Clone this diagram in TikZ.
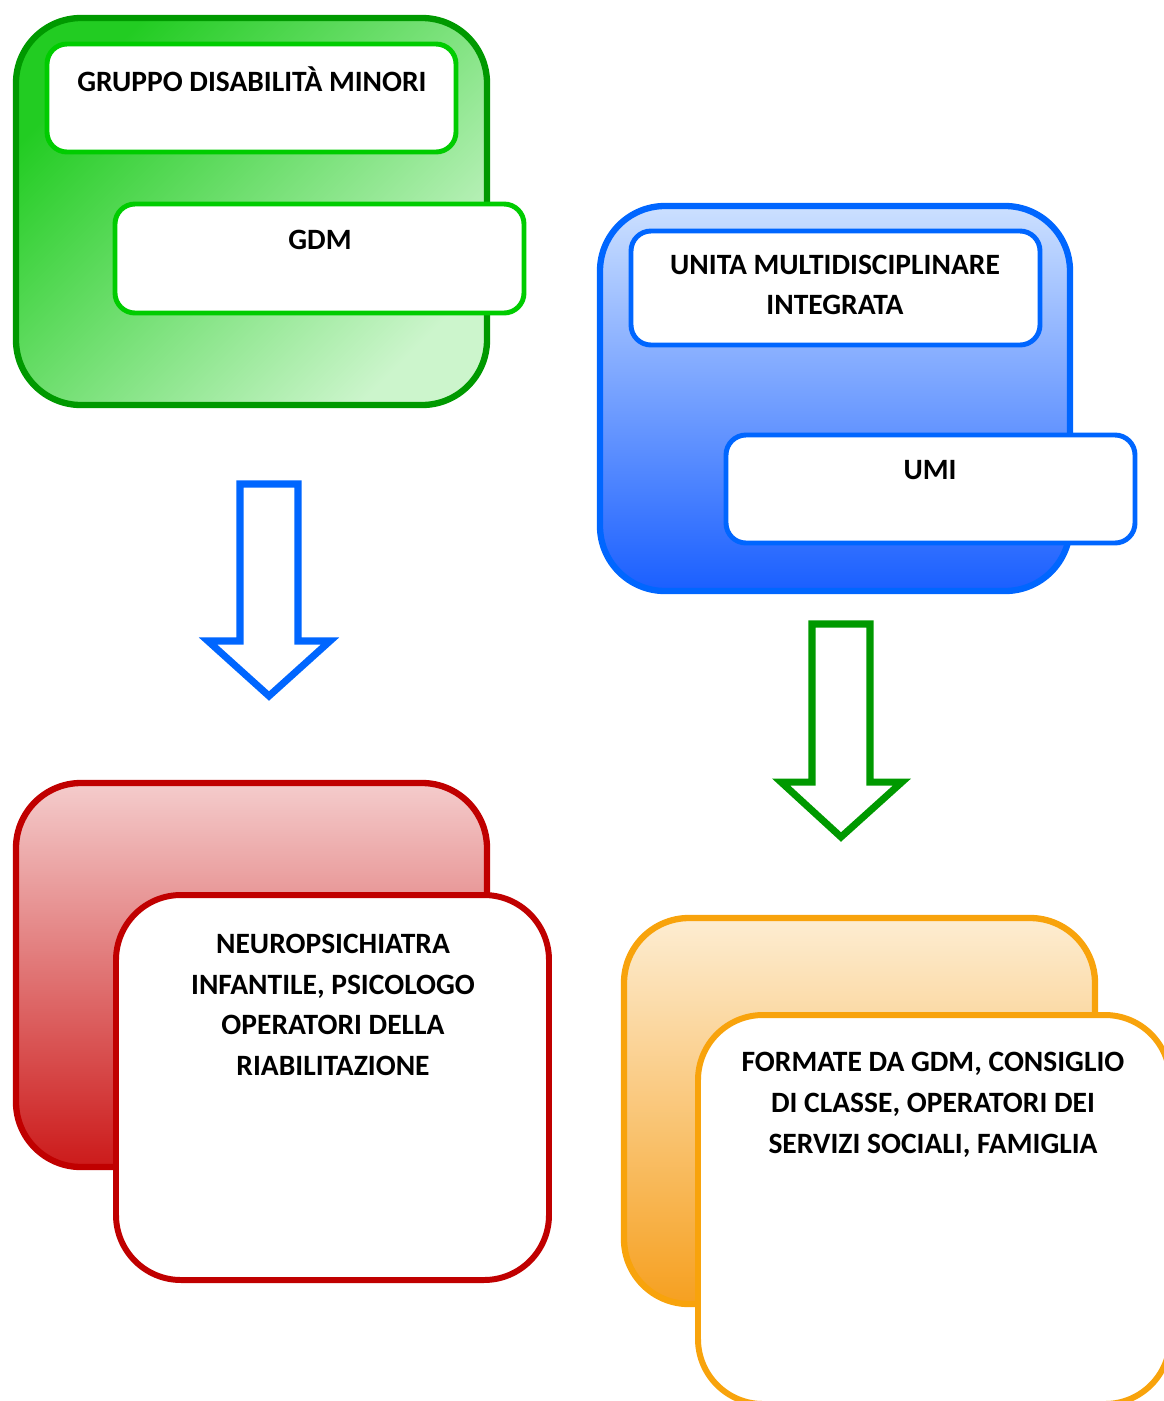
\documentclass[tikz,border=0pt]{standalone}
\usepackage{fontspec}
\setmainfont{Carlito}
\definecolor{gdmdark}{HTML}{009900}
\definecolor{gdmline}{HTML}{00CC00}
\definecolor{gdmtop}{HTML}{22CC22}
\definecolor{gdmbottom}{HTML}{CCF5CC}
\definecolor{umiline}{HTML}{0066FF}
\definecolor{umitop}{HTML}{CCE0FF}
\definecolor{umimid}{HTML}{A8C2FF}
\definecolor{umibottom}{HTML}{1A5FFF}
\definecolor{npiline}{HTML}{C00000}
\definecolor{npitop}{HTML}{F4CCCC}
\definecolor{npimid}{HTML}{E4A8A8}
\definecolor{npibottom}{HTML}{CC1A1A}
\definecolor{famline}{HTML}{F8A30C}
\definecolor{famtop}{HTML}{FDEDD2}
\definecolor{fammid}{HTML}{FBD29E}
\definecolor{fambottom}{HTML}{F6A020}
\begin{document}
\begin{tikzpicture}[x=0.02cm,y=-0.02cm,
    outerbox/.style={line width=3.6pt,rounded corners=1.3cm},
    topbox/.style={line width=2.8pt,rounded corners=0.4cm,fill=white},
    bigbox/.style={line width=3.4pt,rounded corners=1.3cm,fill=white},
    blockarrow/.style={line width=4pt,fill=white},
    boxtext/.style={font=\fontsize{16.8}{23.2}\selectfont\bfseries,align=center,inner sep=0pt}]
    \clip (0,0) rectangle (1164,1401);
    % gruppo disabilita minori
    \shade[draw=gdmdark,outerbox,top color=gdmtop,bottom color=gdmbottom,shading angle=45] (16,18) rectangle (487,405);
    \draw[gdmline,topbox] (47,44) rectangle (456,152);
    \draw[gdmline,topbox] (115,204) rectangle (524,313);
    \node[boxtext] (gruppo) at (252,79) {GRUPPO DISABILITÀ MINORI};
    \node[boxtext] (gdm) at (320,240) {GDM};
    % unita multidisciplinare
    \shade[draw=umiline,outerbox,top color=umitop,middle color=umimid,bottom color=umibottom] (600,206) rectangle (1070,591);
    \draw[umiline,topbox] (631,231) rectangle (1040,345);
    \draw[umiline,topbox] (726,435) rectangle (1135,543);
    \node[boxtext] (unita) at (835,285) {UNITA MULTIDISCIPLINARE\\INTEGRATA};
    \node[boxtext] (umi) at (930,470) {UMI};
    % frecce
    \draw[umiline,blockarrow] (240,484) -- (298,484) -- (298,641) -- (330,641) -- (269,696) -- (208,641) -- (240,641) -- cycle;
    \draw[gdmdark,blockarrow] (812,624) -- (870,624) -- (870,782) -- (902,782) -- (841,837) -- (781,782) -- (812,782) -- cycle;
    % neuropsichiatra
    \shade[draw=npiline,outerbox,top color=npitop,middle color=npimid,bottom color=npibottom] (16,783) rectangle (487,1167);
    \draw[npiline,bigbox] (116,895) rectangle (549,1280);
    \node[boxtext] (npi) at (333,1005) {NEUROPSICHIATRA\\INFANTILE, PSICOLOGO\\OPERATORI DELLA\\RIABILITAZIONE};
    % formate da gdm
    \shade[draw=famline,outerbox,top color=famtop,middle color=fammid,bottom color=fambottom] (624,918) rectangle (1095,1304);
    \draw[famline,bigbox] (698,1015) rectangle (1170,1404);
    \node[boxtext] (formate) at (933,1105) {FORMATE DA GDM, CONSIGLIO\\DI CLASSE, OPERATORI DEI\\SERVIZI SOCIALI, FAMIGLIA};
\end{tikzpicture}
\end{document}
